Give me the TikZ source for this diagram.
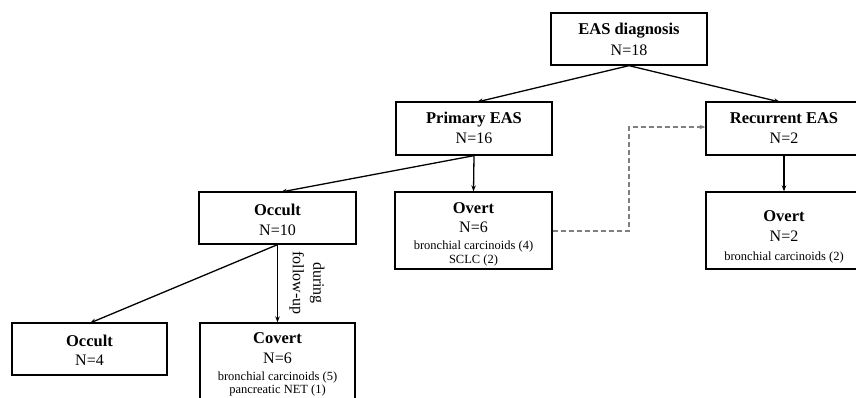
\documentclass[tikz,border=0pt]{standalone}
\usepackage{fontspec}
\setmainfont{Liberation Serif}
\usetikzlibrary{arrows.meta}
\tikzset{
  box/.style={draw=black, line width=1.3pt, fill=white, inner sep=0pt, rectangle},
  tbig/.style={inner sep=0pt, anchor=base, font=\fontsize{16}{19}\selectfont},
  tbold/.style={inner sep=0pt, anchor=base, font=\fontsize{16.5}{19}\selectfont\bfseries},
  tsmall/.style={inner sep=0pt, anchor=base, font=\fontsize{12.5}{15}\selectfont},
  conn/.style={line width=1.3pt, -{Stealth[length=6pt,width=4.5pt]}},
  dconn/.style={line width=1.1pt, draw=black!50, dash pattern=on 5pt off 3pt, -{Stealth[length=6pt,width=4.5pt,fill=black!70]}},
}
\begin{document}
\begin{tikzpicture}[x=1pt,y=-1pt]
\useasboundingbox (0,0) rectangle (856,398);
\clip (0,0) rectangle (856,398);
% boxes
\node[box, minimum width=156pt, minimum height=52pt] (eas) at (629,39) {};
\node[box, minimum width=156pt, minimum height=53pt] (prim) at (474,128.5) {};
\node[box, minimum width=156pt, minimum height=53pt] (rec) at (784,128.5) {};
\node[box, minimum width=157pt, minimum height=52pt] (occ10) at (277.5,218) {};
\node[box, minimum width=157pt, minimum height=77pt] (ov1) at (473.5,230.5) {};
\node[box, minimum width=156pt, minimum height=77pt] (ov2) at (784,230.5) {};
\node[box, minimum width=155pt, minimum height=52pt] (occ4) at (89.5,349) {};
\node[box, minimum width=155pt, minimum height=90pt] (cov) at (277.5,368) {};
% texts
\node[tbold] (t1) at (629,35) {EAS diagnosis};
\node[tbig] (t2) at (629,56) {N=18};
\node[tbold] (t3) at (474,124) {Primary EAS};
\node[tbig] (t4) at (474,144) {N=16};
\node[tbold] (t5) at (784,124) {Recurrent EAS};
\node[tbig] (t6) at (784,144) {N=2};
\node[tbold] (t7) at (277.5,215) {Occult};
\node[tbig] (t8) at (277.5,235) {N=10};
\node[tbold] (t9) at (473.5,213) {Overt};
\node[tbig] (t10) at (473.5,232) {N=6};
\node[tsmall] (t11) at (473.5,249) {bronchial carcinoids (4)};
\node[tsmall] (t12) at (473.5,263) {SCLC (2)};
\node[tbold] (t13) at (784,221) {Overt};
\node[tbig] (t14) at (784,241) {N=2};
\node[tsmall] (t15) at (784,260) {bronchial carcinoids (2)};
\node[tbold] (t16) at (89.5,346) {Occult};
\node[tbig] (t17) at (89.5,365) {N=4};
\node[tbold] (t18) at (277.5,343) {Covert};
\node[tbig] (t19) at (277.5,363) {N=6};
\node[tsmall] (t20) at (277.5,380) {bronchial carcinoids (5)};
\node[tsmall] (t21) at (277.5,393) {pancreatic NET (1)};
\node[rotate=-90, align=center, inner sep=0pt, font=\fontsize{16}{20.5}\selectfont] (fu) at (307,283) {during\\follow-up};
% connectors
\draw[conn] (eas.south) -- (477,102);
\draw[conn] (eas.south) -- (780,102);
\draw[conn] (prim.south) -- (281,192);
\draw[conn] (prim.south) -- (ov1.north);
\draw[conn] (rec.south) -- (ov2.north);
\draw[conn] (occ10.south) -- (90,323);
\draw[conn] (occ10.south) -- (cov.north);
\coordinate (d1) at (629,231);
\coordinate (d2) at (629,127);
\draw[dconn] (ov1.east |- d1) -- (d1) -- (d2) -- (rec.west |- d2);
\end{tikzpicture}
\end{document}
